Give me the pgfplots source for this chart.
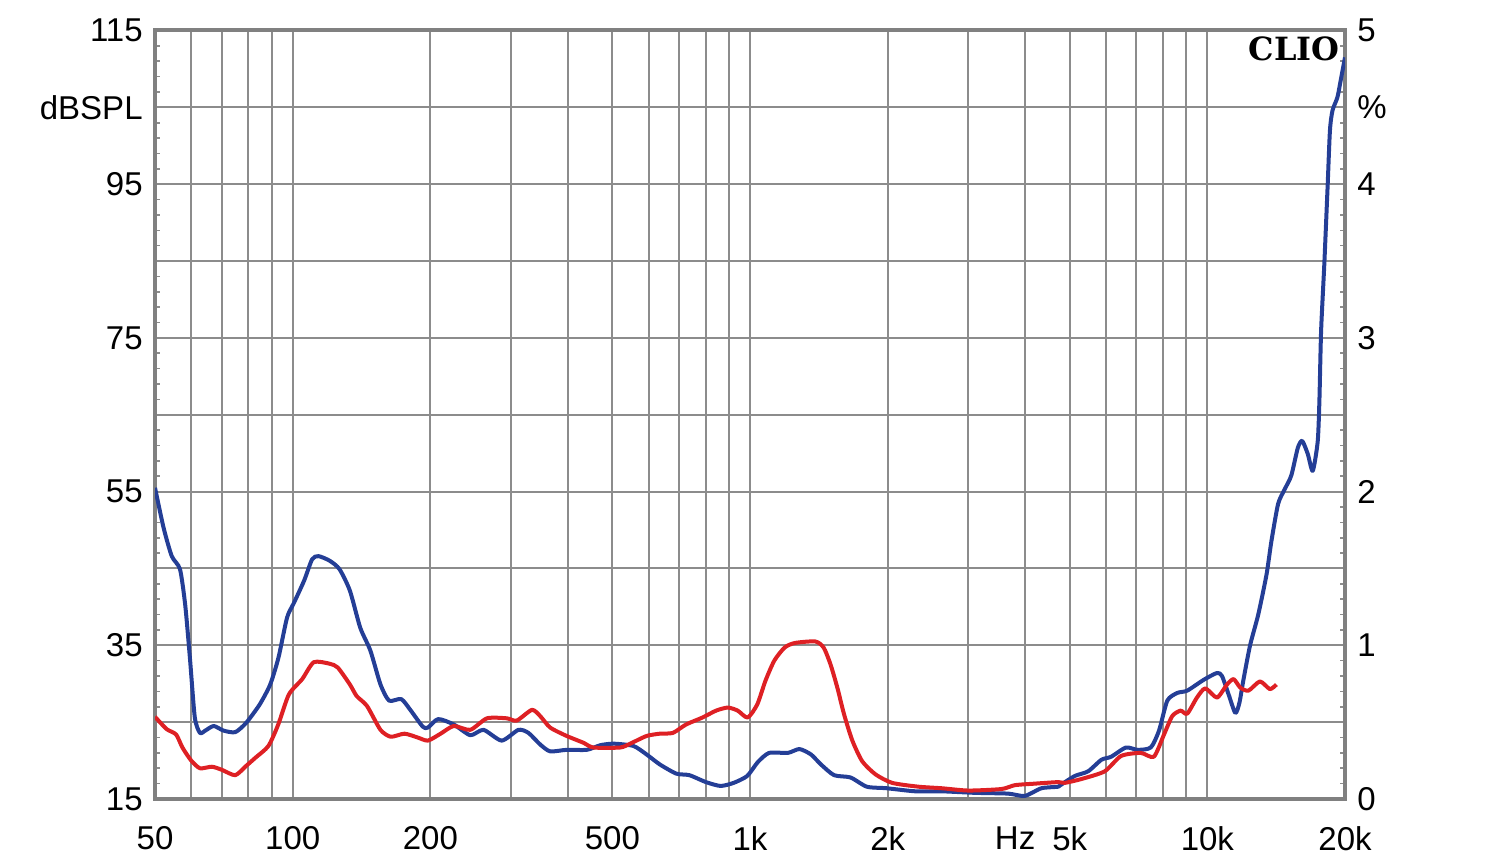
\documentclass[border=0pt]{standalone}
\usepackage{pgfplots}
\pgfplotsset{compat=1.18}
\usepackage{fontspec}
\setmainfont{Liberation Sans}
\newfontfamily\cliofont{DejaVu Serif}
\definecolor{gridc}{RGB}{140,140,140}
\definecolor{framec}{RGB}{128,128,128}
\definecolor{bluec}{RGB}{36,62,150}
\definecolor{redc}{RGB}{222,32,36}

\begin{document}
\begin{tikzpicture}
\path[use as bounding box] (0pt,0pt) rectangle (750pt,432pt);
\begin{axis}[
  at={(77.5pt,32.5pt)}, anchor=south west,
  scale only axis, width=595pt, height=384.25pt,
  xmode=log, xmin=50, xmax=20000, ymin=15, ymax=115,
  xtick={50,100,200,500,1000,2000,5000,10000,20000},
  xticklabels={50,100,200,500,1k,2k,5k,10k,20k},
  minor xtick={60,70,80,90,300,400,600,700,800,900,3000,4000,6000,7000,8000,9000},
  extra x ticks={3800}, extra x tick labels={Hz},
  extra x tick style={grid=none, major tick length=0pt},
  ytick={15,25,...,115},
  yticklabels={15,,35,,55,,75,,95,dBSPL,115},
  minor y tick num=4,
  xmajorgrids, xminorgrids, ymajorgrids,
  major grid style={gridc, line width=1pt},
  minor grid style={gridc, line width=1pt},
  axis line style={framec, line width=2pt},
  tick align=inside,
  major tick length=0pt, minor tick length=2.5pt,
  tick style={gridc, line width=0.8pt},
  tick label style={font=\fontsize{16.5}{19}\selectfont},
  xticklabel style={inner sep=0pt, anchor=north, yshift=-13.5pt},
  yticklabel style={inner sep=0pt, anchor=east, xshift=-6pt},
]
\addplot[bluec, line width=2pt, line join=round, smooth, tension=0.4] coordinates {
(50,55.5) (52.2,50.3) (54.4,46.6) (56.7,44.9) (58.2,40.3) (59.6,33.4) (61.1,25.6)
(62.7,23.6) (64.4,23.9) (67.2,24.5) (70.6,23.9) (74.9,23.7) (79.1,24.9) (84.7,27.3)
(89.3,29.9) (93.1,33.4) (97.2,38.6) (100.6,40.5) (105.9,43.4) (110.3,46.2) (113.9,46.6)
(120.5,46.0) (126.6,44.9) (133.4,42.1) (140.5,37.3) (147.9,34.3) (155.6,29.9) (162.5,27.8)
(172.8,28.0) (181.3,26.5) (192.6,24.4) (197.6,24.3) (208,25.4) (225,24.7) (244.5,23.3)
(261.4,24.0) (286.5,22.6) (311.6,24.0) (327.8,23.6) (347.6,22.1) (365.6,21.2) (397.5,21.4)
(440,21.4) (470.5,22.0) (503,22.2) (556,21.9) (594,20.8) (635,19.5) (690,18.3) (737,18.1)
(801,17.2) (862,16.7) (921,17.1) (986,18.0) (1040,19.8) (1101,21.0) (1210,21.0) (1282,21.5)
(1359,20.8) (1429,19.5) (1527,18.1) (1659,17.8) (1801,16.6) (1990,16.4) (2299,16.0)
(2626,16.0) (3107,15.8) (3669,15.7) (3989,15.4) (4337,16.4) (4720,16.6) (4800,16.9)
(5131,18.0) (5486,18.6) (5865,20.1) (6162,20.5) (6637,21.7) (7035,21.4) (7520,21.7)
(7841,23.9) (8174,27.8) (8594,28.8) (9036,29.1) (9813,30.5) (10498,31.4) (10766,31.0)
(11130,28.6) (11510,26.2) (11750,27.5) (12000,30.6) (12400,35.0) (12920,39.0) (13470,44.2)
(13810,48.6) (14280,53.4) (14760,55.3) (15260,57.1) (15770,60.7) (16120,61.6) (16580,59.9)
(17000,57.7) (17430,61.5) (17580,66.8) (17730,75.9) (18020,84.6) (18320,94.6) (18540,102.0)
(18780,104.6) (19250,106.3) (19570,108.5) (20000,111.5)
};
\addplot[redc, line width=2pt, line join=round, smooth, tension=0.4] coordinates {
(50,25.7) (53,24.1) (55.6,23.4) (57.4,21.7) (60,20.0) (62.7,19.0) (66.6,19.2) (70,18.8)
(74.9,18.1) (79.1,19.3) (83,20.4) (88.5,21.9) (93,24.7) (98.1,28.6) (104.9,30.6)
(111.2,32.8) (120.5,32.6) (125.5,32.1) (133.4,29.9) (138,28.4) (145.4,27.1) (155.6,24.0)
(163.9,23.1) (175.6,23.5) (187.7,23.0) (197.6,22.6) (210.6,23.5) (225,24.5) (244.5,24.0)
(266,25.5) (294,25.5) (309,25.2) (333.5,26.6) (347.6,25.8) (365.6,24.3) (397.5,23.2)
(433,22.3) (454.6,21.7) (520,21.7) (547,22.2) (594,23.2) (635,23.5) (678,23.6) (725,24.7)
(787,25.6) (843,26.5) (894,26.9) (940,26.5) (988,25.6) (1037,27.3) (1081,30.4) (1130,33.0)
(1190,34.7) (1253,35.3) (1389,35.5) (1449,34.7) (1500,32.5) (1552,29.5) (1606,26.0)
(1674,22.6) (1760,19.9) (1882,18.2) (2045,17.1) (2337,16.6) (2626,16.4) (3004,16.1)
(3549,16.3) (3795,16.8) (4197,17.0) (4720,17.2) (4880,17.1) (5304,17.6) (5963,18.6)
(6477,20.6) (7150,21.0) (7640,20.5) (8040,23.4) (8382,25.8) (8740,26.5) (9036,26.1)
(9490,28.2) (9898,29.4) (10498,28.2) (11040,29.9) (11413,30.6) (11800,29.5) (12300,29.1)
(13032,30.3) (13700,29.3) (14160,29.9)
};
\node[anchor=north east, inner sep=0pt, font=\cliofont\bfseries\fontsize{16}{18}\selectfont]
  at (rel axis cs:1,1) [xshift=-2.5pt, yshift=-3pt] {CLIO};
\end{axis}
\begin{axis}[
  at={(77.5pt,32.5pt)}, anchor=south west,
  scale only axis, width=595pt, height=384.25pt,
  xmode=log, xmin=50, xmax=20000, ymin=0, ymax=5,
  axis x line=none, axis y line*=right,
  y axis line style={draw=none},
  ytick={0,1,2,3,4,4.5,5},
  yticklabels={0,1,2,3,4,\%,5},
  major tick length=0pt,
  tick label style={font=\fontsize{16.5}{19}\selectfont},
  yticklabel style={inner sep=0pt, anchor=west, xshift=6pt},
]
\end{axis}
\end{tikzpicture}
\end{document}
